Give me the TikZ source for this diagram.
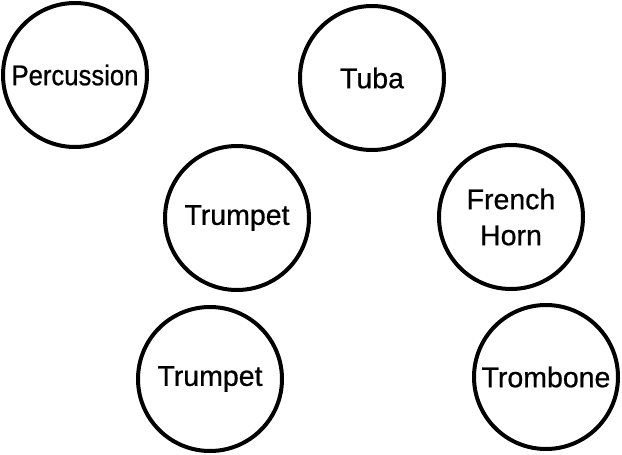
\documentclass[tikz,border=0pt]{standalone}
\usepackage{fontspec}
\setmainfont{Liberation Sans}
\newfontfamily\instrfont{Liberation Sans}[FakeBold=0.7]
\newfontfamily\narrowfont{Liberation Sans}[FakeBold=0.7, FakeStretch=0.9]
\tikzset{instr/.style={draw, circle, line width=4pt, minimum size=144pt, inner sep=0pt,
    align=center, font=\instrfont\fontsize{28.5}{36}\selectfont}}
\begin{document}
\begin{tikzpicture}[x=1pt, y=-1pt]
                      \useasboundingbox (0,0) rectangle (622,455);
                      \node[instr, font=\narrowfont\fontsize{28.5}{36}\selectfont] (perc) at (75,75) {Percussion};
                      \node[instr] (tuba) at (372,78) {Tuba};
                      \node[instr] (trpA) at (237,218) {Trumpet};
                      \node[instr] (horn) at (511,217) {French\\Horn};
                      \node[instr] (trpB) at (210,379) {Trumpet};
                      \node[instr] (bone) at (546,377) {Trombone};
                    \end{tikzpicture}
\end{document}
